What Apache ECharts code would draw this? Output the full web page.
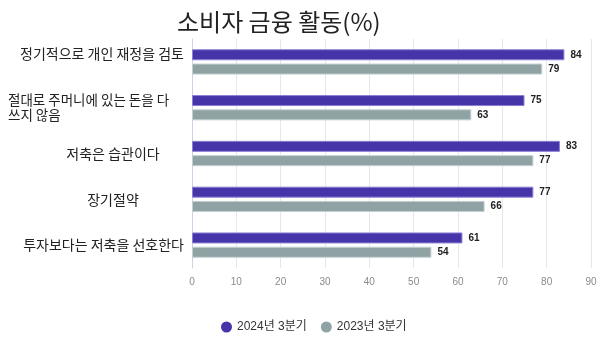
<!DOCTYPE html>
<html>
<head>
<meta charset="utf-8">
<script src="https://cdn.jsdelivr.net/npm/echarts@6/dist/echarts.min.js"></script>
<style>
  html, body { margin: 0; padding: 0; background: #fff; }
  #chart { width: 600px; height: 353px; }
</style>
</head>
<body>
<div id="chart"></div>
<script>
// 데이터
const categories = [
  '정기적으로 개인 재정을 검토',
  '절대로 주머니에 있는 돈을 다\n쓰지 않음',
  '저축은 습관이다',
  '장기절약',
  '투자보다는 저축을 선호한다'
]
const seriesNames = ['2024년 3분기', '2023년 3분기']
const values2024 = [84, 75, 83, 77, 61]
const values2023 = [79, 63, 77, 66, 54]
const xTicks = { min: 0, max: 90, step: 10 }

const FONT = "'Liberation Sans', 'Noto Sans CJK KR', sans-serif"
const KFONT = "'Noto Sans CJK KR', sans-serif"

// 카테고리별 라벨 스타일 (원본 정렬 맞추기)
const labelStyles = ['r1', 'l', 'c', 'c', 'r']

const myChart = echarts.init(document.getElementById('chart'))

const option = {
  backgroundColor: '#fff',
  color: ['#4535a8', '#8fa3a4'],
  title: {
    text: '소비자 금융 활동(%)',
    left: 172,
    top: 5,
    textStyle: { fontFamily: KFONT, fontSize: 24, fontWeight: 'normal', color: '#222' }
  },
  legend: {
    data: seriesNames,
    left: 216,
    top: 316,
    icon: 'circle',
    itemWidth: 11,
    itemHeight: 11,
    itemGap: 14,
    itemStyle: { borderWidth: 0 },
    textStyle: { fontFamily: FONT, fontSize: 12, color: '#333' }
  },
  grid: {
    left: 192,
    right: 9,
    top: 39,
    bottom: 85,
    containLabel: false
  },
  xAxis: {
    type: 'value',
    min: xTicks.min,
    max: xTicks.max,
    interval: xTicks.step,
    axisLine: { show: false },
    axisTick: { show: false },
    axisLabel: { color: '#8a8a8a', fontFamily: FONT, fontSize: 10, margin: 9 },
    splitLine: { lineStyle: { color: '#e6e6ee', width: 1 } }
  },
  yAxis: {
    type: 'category',
    inverse: true,
    data: categories,
    axisLine: { show: true, lineStyle: { color: '#cdd2e4', width: 1 } },
    axisTick: { show: false },
    axisLabel: {
      margin: 8,
      formatter: function (value, idx) {
        const st = labelStyles[idx]
        return value.split('\n').map(function (s) { return '{' + st + '|' + s + '}' }).join('\n')
      },
      rich: {
        r1: { fontFamily: KFONT, fontSize: 14, color: '#222', width: 176, align: 'right', padding: [0, 0, 16, 0] },
        r: { fontFamily: KFONT, fontSize: 14, color: '#222', width: 176, align: 'right' },
        l: { fontFamily: KFONT, fontSize: 13.5, color: '#222', width: 176, align: 'left', lineHeight: 15 },
        c: { fontFamily: KFONT, fontSize: 14, color: '#222', width: 142, align: 'center' }
      }
    }
  },
  series: [
    {
      name: seriesNames[0],
      type: 'bar',
      data: values2024,
      barWidth: 11,
      barGap: '30%',
      itemStyle: { borderColor: '#8a80d4', borderWidth: 1 },
      label: {
        show: true,
        position: 'right',
        distance: 6,
        fontFamily: FONT,
        fontSize: 10,
        fontWeight: 'bold',
        color: '#222'
      }
    },
    {
      name: seriesNames[1],
      type: 'bar',
      data: values2023,
      barWidth: 11,
      barGap: '30%',
      itemStyle: { borderColor: '#c3cfcf', borderWidth: 1 },
      label: {
        show: true,
        position: 'right',
        distance: 6,
        fontFamily: FONT,
        fontSize: 10,
        fontWeight: 'bold',
        color: '#222'
      }
    }
  ]
}

myChart.setOption(option)
window.addEventListener('resize', function () {
  myChart.resize()
})
</script>
</body>
</html>
